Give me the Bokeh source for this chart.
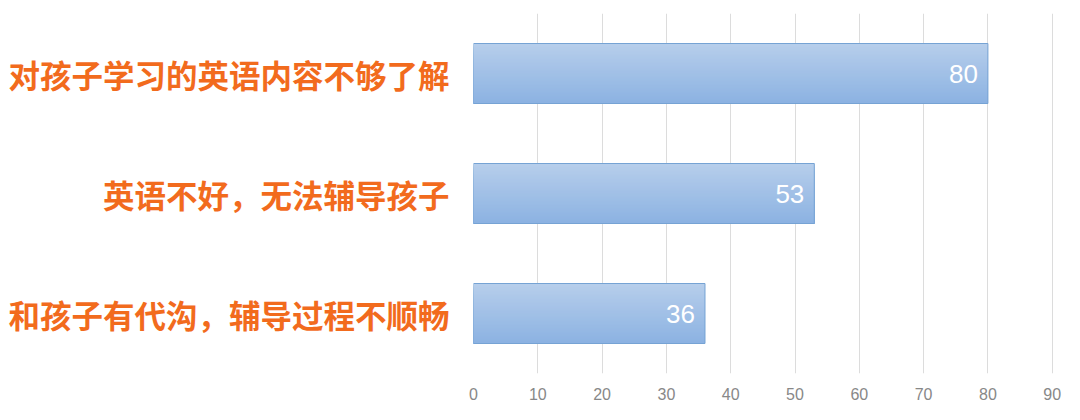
from bokeh.plotting import figure
from bokeh.models import ColumnDataSource, FixedTicker, Range1d
from bokeh.transform import dodge
from bokeh.embed import file_html
from bokeh.resources import INLINE
from bokeh.core.properties import value

categories = ["对孩子学习的英语内容不够了解", "英语不好，无法辅导孩子", "和孩子有代沟，辅导过程不顺畅"]
values = [80, 53, 36]
x_ticks = [0, 10, 20, 30, 40, 50, 60, 70, 80, 90]

src = ColumnDataSource(dict(cat=categories, val=values, label=[str(v) for v in values]))

p = figure(width=1064, height=404, y_range=list(reversed(categories)),
           x_range=Range1d(0, 91.6), output_backend="svg", toolbar_location=None,
           min_border_left=473, min_border_right=2, min_border_top=13, min_border_bottom=31)
p.outline_line_color = None
p.background_fill_color = "white"
p.border_fill_color = "white"

# gradient bars: nested strips, each from its top down to the bar bottom
N = 30
bar_h = 0.5
top = (0xb6, 0xce, 0xeb)
bot = (0x8c, 0xb2, 0xe2)
for i in range(N):
    t = i / (N - 1)
    c = tuple(int(round(top[k] + (bot[k] - top[k]) * t)) for k in range(3))
    col = "#%02x%02x%02x" % c
    s_top = bar_h / 2 - i * bar_h / N
    s_bot = -bar_h / 2
    p.hbar(y=dodge("cat", (s_top + s_bot) / 2, range=p.y_range), right="val", left=0,
           height=s_top - s_bot, source=src, fill_color=col, line_color=None)
p.hbar(y="cat", right="val", left=0, height=bar_h, source=src,
       fill_alpha=0, line_color="#76a3d4", line_width=1)

p.text(x="val", y="cat", text="label", source=src, x_offset=-10,
       text_align="right", text_baseline="middle", text_color="white",
       text_font=value("Liberation Sans"), text_font_size="26px")

p.xaxis.ticker = FixedTicker(ticks=x_ticks)
p.xaxis.axis_line_color = None
p.xaxis.major_tick_line_color = None
p.xaxis.minor_tick_line_color = None
p.xaxis.major_label_text_color = "#888888"
p.xaxis.major_label_text_font = "Liberation Sans"
p.xaxis.major_label_text_font_size = "16px"
p.xaxis.major_label_standoff = 8

p.yaxis.axis_line_color = None
p.yaxis.major_tick_line_color = None
p.yaxis.minor_tick_line_color = None
p.yaxis.major_label_text_color = "#f26b1d"
p.yaxis.major_label_text_font = "Noto Sans CJK SC"
p.yaxis.major_label_text_font_style = "bold"
p.yaxis.major_label_text_font_size = "31.5px"
p.yaxis.major_label_standoff = 18

p.xgrid.grid_line_color = "#dcdcdc"
p.ygrid.grid_line_color = None

open("out.html", "w").write(file_html(p, INLINE))
